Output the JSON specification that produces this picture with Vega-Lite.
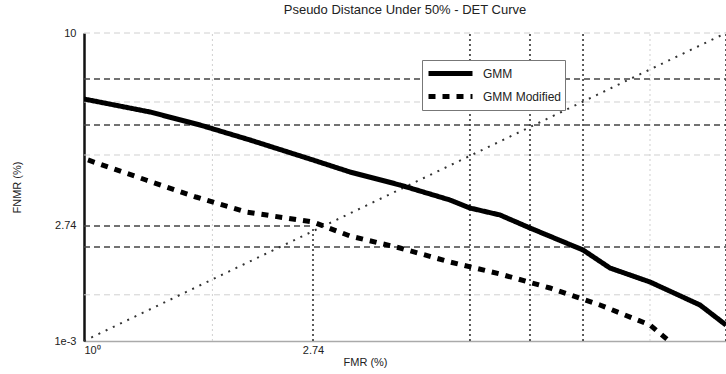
{
  "$schema": "https://vega.github.io/schema/vega-lite/v6.json",
  "width": 642,
  "height": 308,
  "autosize": "none",
  "padding": {"left": 84, "top": 33, "right": 0, "bottom": 33},
  "background": "white",
  "config": {
    "view": {"stroke": null},
    "font": "Liberation Sans"
  },
  "title": {
    "text": "Pseudo Distance Under 50% - DET Curve",
    "fontSize": 13,
    "fontWeight": "normal",
    "color": "#222",
    "offset": 10
  },
  "datasets": {
    "curves": [
      {"x": 0, "y": 78.57, "s": "GMM"},
      {"x": 10.28, "y": 74.35, "s": "GMM"},
      {"x": 18.07, "y": 70.13, "s": "GMM"},
      {"x": 25.86, "y": 65.26, "s": "GMM"},
      {"x": 35.67, "y": 58.77, "s": "GMM"},
      {"x": 41.43, "y": 54.87, "s": "GMM"},
      {"x": 49.22, "y": 50.65, "s": "GMM"},
      {"x": 57.01, "y": 45.78, "s": "GMM"},
      {"x": 60.12, "y": 43.18, "s": "GMM"},
      {"x": 64.8, "y": 40.91, "s": "GMM"},
      {"x": 69.47, "y": 36.69, "s": "GMM"},
      {"x": 77.73, "y": 29.55, "s": "GMM"},
      {"x": 81.93, "y": 23.7, "s": "GMM"},
      {"x": 88.16, "y": 19.16, "s": "GMM"},
      {"x": 95.95, "y": 11.69, "s": "GMM"},
      {"x": 100, "y": 5.19, "s": "GMM"},
      {"x": 0.62, "y": 58.77, "s": "GMM Modified"},
      {"x": 9.66, "y": 52.27, "s": "GMM Modified"},
      {"x": 17.45, "y": 46.75, "s": "GMM Modified"},
      {"x": 25.23, "y": 41.88, "s": "GMM Modified"},
      {"x": 35.67, "y": 38.64, "s": "GMM Modified"},
      {"x": 41.43, "y": 34.09, "s": "GMM Modified"},
      {"x": 49.22, "y": 30.19, "s": "GMM Modified"},
      {"x": 57.01, "y": 25.65, "s": "GMM Modified"},
      {"x": 64.8, "y": 21.75, "s": "GMM Modified"},
      {"x": 72.59, "y": 17.21, "s": "GMM Modified"},
      {"x": 80.37, "y": 11.69, "s": "GMM Modified"},
      {"x": 88.16, "y": 5.19, "s": "GMM Modified"},
      {"x": 90.97, "y": 0.32, "s": "GMM Modified"}
    ],
    "hdark": [
      {"y": 85.06, "x0": 0, "x1": 100},
      {"y": 70.13, "x0": 0, "x1": 100},
      {"y": 37.34, "x0": 0, "x1": 35.67},
      {"y": 30.52, "x0": 0, "x1": 100}
    ],
    "hfaint": [
      {"y": 100, "x0": 0, "x1": 100},
      {"y": 77.6, "x0": 0, "x1": 100},
      {"y": 60.39, "x0": 0, "x1": 100},
      {"y": 15, "x0": 0, "x1": 100}
    ],
    "vdark": [
      {"x": 60.12, "y0": 0, "y1": 100},
      {"x": 69.47, "y0": 0, "y1": 100},
      {"x": 77.73, "y0": 0, "y1": 100},
      {"x": 100, "y0": 0, "y1": 100},
      {"x": 35.67, "y0": 0, "y1": 37.34}
    ],
    "vfaint": [
      {"x": 88.16, "y0": 0, "y1": 100},
      {"x": 20, "y0": 0, "y1": 100}
    ],
    "diag": [
      {"x": 0, "y": 0},
      {"x": 100, "y": 100}
    ]
  },
  "layer": [
    {
      "data": {"name": "hfaint"},
      "mark": {"type": "rule", "color": "#d0d0d0", "strokeDash": [6, 4], "strokeWidth": 1},
      "encoding": {
        "y": {"field": "y", "type": "quantitative", "scale": {"domain": [0, 100], "nice": false}},
        "x": {"field": "x0", "type": "quantitative", "scale": {"domain": [0, 100], "nice": false}},
        "x2": {"field": "x1"}
      }
    },
    {
      "data": {"name": "vfaint"},
      "mark": {"type": "rule", "color": "#d0d0d0", "strokeDash": [2, 3], "strokeWidth": 1},
      "encoding": {
        "x": {"field": "x", "type": "quantitative"},
        "y": {"field": "y0", "type": "quantitative"},
        "y2": {"field": "y1"}
      }
    },
    {
      "data": {"name": "hdark"},
      "mark": {"type": "rule", "color": "#444", "strokeDash": [6, 4], "strokeWidth": 1.3},
      "encoding": {
        "y": {"field": "y", "type": "quantitative"},
        "x": {"field": "x0", "type": "quantitative"},
        "x2": {"field": "x1"}
      }
    },
    {
      "data": {"name": "vdark"},
      "mark": {"type": "rule", "color": "#333", "strokeDash": [2, 3], "strokeWidth": 1.6},
      "encoding": {
        "x": {"field": "x", "type": "quantitative"},
        "y": {"field": "y0", "type": "quantitative"},
        "y2": {"field": "y1"}
      }
    },
    {
      "data": {"name": "diag"},
      "mark": {"type": "line", "color": "#333", "strokeDash": [2, 6], "strokeWidth": 2},
      "encoding": {
        "x": {"field": "x", "type": "quantitative"},
        "y": {"field": "y", "type": "quantitative"}
      }
    },
    {
      "data": {"name": "curves"},
      "mark": {"type": "line", "clip": true, "color": "#000", "strokeWidth": 5},
      "encoding": {
        "x": {
          "field": "x", "type": "quantitative",
          "scale": {"domain": [0, 100], "nice": false},
          "axis": {
            "values": [0, 35.67],
            "labelExpr": "datum.value == 0 ? '10⁰' : '2.74'",
            "title": "FMR (%)",
            "titleX": 281,
            "titleFontSize": 11,
            "titleFontWeight": "normal",
            "titleColor": "#222",
            "titlePadding": 1,
            "labelFontSize": 11,
            "labelColor": "#222",
            "labelPadding": 3,
            "ticks": false,
            "domainColor": "#aaa",
            "domainWidth": 1.5,
            "grid": false
          }
        },
        "y": {
          "field": "y", "type": "quantitative",
          "scale": {"domain": [0, 100], "nice": false},
          "axis": {
            "values": [0, 37.34, 100],
            "labelExpr": "datum.value == 0 ? '1e-3' : datum.value == 100 ? '10' : '2.74'",
            "title": "FNMR (%)",
            "titleX": -62,
            "titleFontSize": 11,
            "titleFontWeight": "normal",
            "titleColor": "#222",
            "labelFontSize": 11,
            "labelColor": "#222",
            "labelPadding": 8,
            "ticks": false,
            "domainColor": "#111",
            "domainWidth": 2.5,
            "grid": false
          }
        },
        "strokeDash": {
          "field": "s", "type": "nominal",
          "scale": {"domain": ["GMM", "GMM Modified"], "range": [[1, 0], [7, 7]]},
          "legend": {
            "title": null,
            "orient": "none",
            "legendX": 338,
            "legendY": 27,
            "symbolType": "M-2.75,0H2.75",
            "symbolSize": 256,
            "symbolOffset": 15,
            "symbolStrokeWidth": 5,
            "symbolStrokeColor": "#000",
            "labelFontSize": 12,
            "labelColor": "#222",
            "labelOffset": 22,
            "rowPadding": 2,
            "strokeColor": "#777",
            "fillColor": "white",
            "padding": 3
          }
        }
      }
    }
  ]
}
